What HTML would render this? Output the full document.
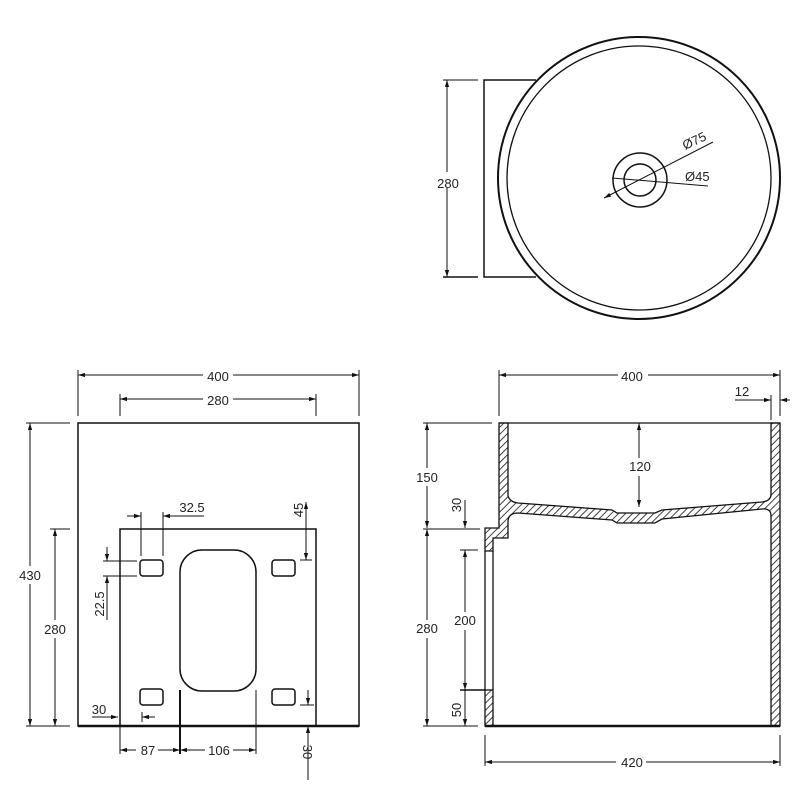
<!DOCTYPE html>
<html><head><style>body{margin:0;background:#fff}svg{display:block}text{font-family:"Liberation Sans",sans-serif;font-size:13px;fill:#222}</style></head>
<body>
<svg width="800" height="800" viewBox="0 0 800 800" xmlns="http://www.w3.org/2000/svg">
<defs>
<pattern id="h" width="5" height="5" patternUnits="userSpaceOnUse" patternTransform="rotate(45)"><line x1="0" y1="0" x2="0" y2="5" stroke="#111" stroke-width="1.6"/></pattern>
<marker id="a" viewBox="0 0 10 10" refX="10" refY="5" markerWidth="7" markerHeight="7" orient="auto-start-reverse"><path d="M0,2 L10,5 L0,8z" fill="#111"/></marker>
</defs>
<g stroke="#111" fill="none" stroke-width="1">
<!-- top view -->
<path d="M536,80 H484 V277 H536" stroke-width="1.5"/>
<circle cx="639" cy="178" r="141" stroke-width="2" fill="#fff"/>
<circle cx="639" cy="178" r="132" stroke-width="1.3"/>
<circle cx="640" cy="180" r="27" stroke-width="1.5"/>
<circle cx="640" cy="180" r="16" stroke-width="1.5"/>
<line x1="447" y1="80" x2="447" y2="277" marker-start="url(#a)" marker-end="url(#a)"/>
<line x1="443" y1="80" x2="478" y2="80"/><line x1="443" y1="277" x2="478" y2="277" stroke-width="1.5"/>
<line x1="604" y1="198" x2="713" y2="142" marker-start="url(#a)"/>
<line x1="612" y1="178" x2="708" y2="186"/>
<!-- front view -->
<rect x="78" y="423" width="281" height="303" stroke-width="1.5"/>
<path d="M120,726 V529 H316 V726" stroke-width="1.5"/>
<line x1="78" y1="726" x2="359" y2="726" stroke-width="2.5"/>
<rect x="140" y="560" width="23" height="16" rx="3" stroke-width="1.5"/>
<rect x="272" y="560" width="23" height="16" rx="3" stroke-width="1.5"/>
<rect x="140" y="689" width="23" height="16" rx="3" stroke-width="1.5"/>
<rect x="272" y="689" width="23" height="16" rx="3" stroke-width="1.5"/>
<rect x="180" y="550" width="76" height="141" rx="22" stroke-width="1.5"/>
<line x1="78" y1="375" x2="359" y2="375" marker-start="url(#a)" marker-end="url(#a)"/>
<line x1="78" y1="370" x2="78" y2="416"/><line x1="359" y1="370" x2="359" y2="416"/>
<line x1="120" y1="399" x2="316" y2="399" marker-start="url(#a)" marker-end="url(#a)"/>
<line x1="120" y1="394" x2="120" y2="416"/><line x1="316" y1="394" x2="316" y2="416"/>
<line x1="30" y1="423" x2="30" y2="726" marker-start="url(#a)" marker-end="url(#a)"/>
<line x1="26" y1="423" x2="70" y2="423"/><line x1="26" y1="726" x2="70" y2="726"/>
<line x1="55" y1="529" x2="55" y2="726" marker-start="url(#a)" marker-end="url(#a)"/>
<line x1="50" y1="529" x2="70" y2="529"/>
<line x1="141" y1="512" x2="141" y2="556"/><line x1="163" y1="512" x2="163" y2="556"/>
<line x1="127" y1="516" x2="141" y2="516" marker-end="url(#a)"/><line x1="204" y1="516" x2="163" y2="516" marker-end="url(#a)"/>
<line x1="306" y1="502" x2="306" y2="560" marker-start="url(#a)" marker-end="url(#a)"/>
<line x1="300" y1="560" x2="312" y2="560"/>
<line x1="103" y1="561" x2="137" y2="561"/><line x1="103" y1="576" x2="137" y2="576"/>
<line x1="107" y1="547" x2="107" y2="561" marker-end="url(#a)"/><line x1="107" y1="620" x2="107" y2="576" marker-end="url(#a)"/>
<line x1="92" y1="717" x2="118" y2="717" marker-end="url(#a)"/><line x1="155" y1="717" x2="142" y2="717" marker-end="url(#a)"/>
<line x1="142" y1="712" x2="142" y2="722"/>
<line x1="120" y1="726" x2="120" y2="754"/><line x1="180" y1="690" x2="180" y2="754" stroke-width="2"/><line x1="256" y1="690" x2="256" y2="754"/>
<line x1="120" y1="750" x2="180" y2="750" marker-start="url(#a)" marker-end="url(#a)"/>
<line x1="180" y1="750" x2="256" y2="750" marker-start="url(#a)" marker-end="url(#a)"/>
<line x1="308" y1="690" x2="308" y2="705" marker-end="url(#a)"/><line x1="308" y1="780" x2="308" y2="726" marker-end="url(#a)"/>
<line x1="300" y1="705" x2="314" y2="705"/>
<!-- section view -->
<path d="M499,423 H508 V496 Q510,502 518,503 L612,510 L617,513 H655 L662,510 L762,502 Q771,501 771,494 V423 H780 V726 H771 V516 Q771,508 762,509 L662,519 L655,523 H617 L612,520 L518,513 Q508,513 508,522 V538 H493 V551 H485 V528 H499 Z" fill="url(#h)" stroke-width="1.3"/>
<rect x="485" y="690" width="8" height="36" fill="url(#h)" stroke-width="1.3"/>
<line x1="485" y1="551" x2="485" y2="690" stroke-width="1.3"/><line x1="493" y1="551" x2="493" y2="690" stroke-width="1.3"/>
<line x1="499" y1="423" x2="780" y2="423" stroke-width="1.3"/>
<line x1="485" y1="726" x2="780" y2="726" stroke-width="2.5"/>
<line x1="499" y1="375" x2="780" y2="375" marker-start="url(#a)" marker-end="url(#a)"/>
<line x1="499" y1="370" x2="499" y2="416"/><line x1="780" y1="370" x2="780" y2="416"/>
<line x1="771" y1="395" x2="771" y2="420"/>
<line x1="735" y1="400" x2="771" y2="400" marker-end="url(#a)"/><line x1="790" y1="400" x2="780" y2="400" marker-end="url(#a)"/>
<line x1="427" y1="423" x2="427" y2="528" marker-start="url(#a)" marker-end="url(#a)"/>
<line x1="427" y1="529" x2="427" y2="726" marker-start="url(#a)" marker-end="url(#a)"/>
<line x1="423" y1="423" x2="492" y2="423"/><line x1="423" y1="529" x2="480" y2="529"/><line x1="423" y1="726" x2="478" y2="726"/>
<line x1="465" y1="500" x2="465" y2="528" marker-end="url(#a)"/>
<line x1="465" y1="550" x2="465" y2="690" marker-start="url(#a)" marker-end="url(#a)"/>
<line x1="465" y1="690" x2="465" y2="726" marker-end="url(#a)"/>
<line x1="460" y1="550" x2="478" y2="550"/><line x1="460" y1="690" x2="485" y2="690" stroke-width="1.5"/>
<line x1="639" y1="423" x2="639" y2="507" marker-start="url(#a)" marker-end="url(#a)"/>
<line x1="485" y1="735" x2="485" y2="766"/><line x1="780" y1="735" x2="780" y2="766"/>
<line x1="485" y1="762" x2="780" y2="762" marker-start="url(#a)" marker-end="url(#a)"/>
</g>
<g>
<rect x="440" y="172" width="20" height="16" fill="#fff"/><text x="448" y="188" text-anchor="middle">280</text>
<text x="685" y="150" transform="rotate(-25 685 150)">Ø75</text>
<text x="685" y="181">Ø45</text>
<rect x="203" y="367" width="30" height="16" fill="#fff"/><text x="218" y="381" text-anchor="middle">400</text>
<rect x="203" y="391" width="30" height="16" fill="#fff"/><text x="218" y="405" text-anchor="middle">280</text>
<rect x="17" y="566" width="26" height="18" fill="#fff"/><text x="30" y="580" text-anchor="middle">430</text>
<rect x="42" y="620" width="26" height="18" fill="#fff"/><text x="55" y="634" text-anchor="middle">280</text>
<text x="192" y="512" text-anchor="middle">32.5</text>
<text transform="translate(303 510) rotate(-90)" text-anchor="middle">45</text>
<text transform="translate(104 604) rotate(-90)" text-anchor="middle">22.5</text>
<text x="99" y="714" text-anchor="middle">30</text>
<rect x="136" y="742" width="22" height="16" fill="#fff"/><text x="148" y="755" text-anchor="middle">87</text>
<rect x="205" y="742" width="28" height="16" fill="#fff"/><text x="219" y="755" text-anchor="middle">106</text>
<text transform="translate(303 752) rotate(90)" text-anchor="middle">30</text>
<rect x="618" y="367" width="30" height="16" fill="#fff"/><text x="632" y="381" text-anchor="middle">400</text>
<text x="742" y="396" text-anchor="middle">12</text>
<rect x="414" y="468" width="26" height="18" fill="#fff"/><text x="427" y="482" text-anchor="middle">150</text>
<rect x="414" y="620" width="26" height="18" fill="#fff"/><text x="427" y="633" text-anchor="middle">280</text>
<text transform="translate(461 505) rotate(-90)" text-anchor="middle">30</text>
<rect x="452" y="612" width="26" height="18" fill="#fff"/><text x="465" y="625" text-anchor="middle">200</text>
<text transform="translate(461 710) rotate(-90)" text-anchor="middle">50</text>
<rect x="627" y="458" width="26" height="18" fill="#fff"/><text x="640" y="471" text-anchor="middle">120</text>
<rect x="616" y="754" width="30" height="16" fill="#fff"/><text x="632" y="767" text-anchor="middle">420</text>
</g>
</svg>
</body></html>
